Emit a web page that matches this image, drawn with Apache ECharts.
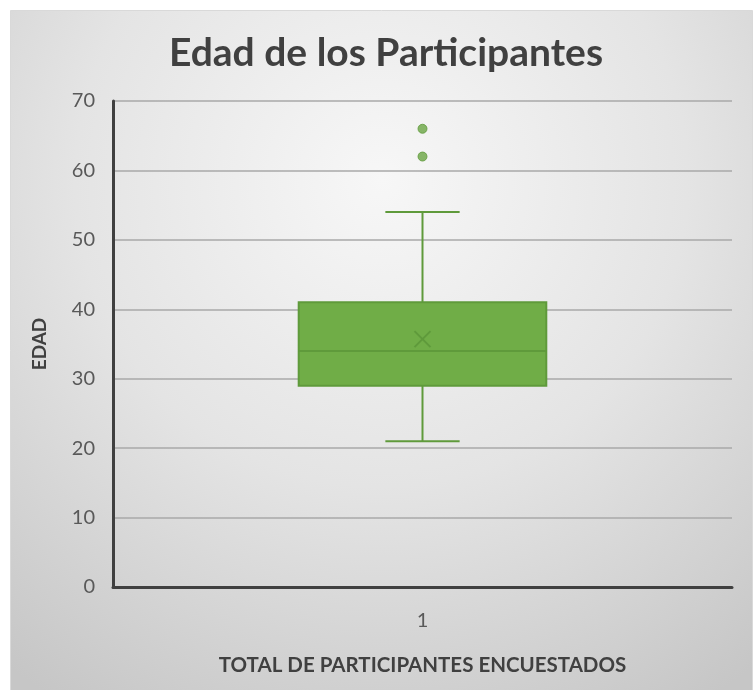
<!DOCTYPE html>
<html>
<head>
<meta charset="utf-8">
<script src="https://cdn.jsdelivr.net/npm/echarts@6/dist/echarts.min.js"></script>
<style>
    html, body { margin: 0; padding: 0; background: #fff; }
    #box_con { width: 755px; height: 690px; }
</style>
</head>
<body>
<div id="box_con"></div>
<script>
// datos
var categories = ['1'];
// [min, Q1, mediana, Q3, max]
var boxValues = [[21, 29, 34, 41, 54]];
var meanValues = [35.7];
var outliers = [[0, 62], [0, 66]];
var yTicks = [0, 10, 20, 30, 40, 50, 60, 70];

var green = '#70ad47';
var darkGreen = '#5f9a3b';

var boxChart = echarts.init(document.getElementById('box_con'));

var boxData = boxValues.map(function (v, i) {
    return [i].concat(v).concat([meanValues[i]]);
});

const option = {
    backgroundColor: '#fff',
    animation: false,
    graphic: [{
        type: 'rect',
        z: -10,
        silent: true,
        shape: { x: 10.5, y: 10.5, width: 742, height: 680 },
        style: {
            fill: {
                type: 'radial', x: 0.5, y: 0.25, r: 0.9,
                colorStops: [
                    { offset: 0, color: '#f7f7f7' },
                    { offset: 0.5, color: '#e4e4e4' },
                    { offset: 1, color: '#c6c6c6' }
                ]
            },
            stroke: '#d9d9d9',
            lineWidth: 1
        }
    }],
    title: {
        text: 'Edad de los Participantes',
        left: 381,
        textAlign: 'center',
        top: 29,
        textStyle: {
            fontFamily: 'Lato',
            fontSize: 39,
            fontWeight: 'bold',
            color: '#404040'
        }
    },
    grid: { left: 113, right: 23, top: 101, bottom: 103 },
    xAxis: {
        type: 'category',
        data: categories,
        name: 'TOTAL DE PARTICIPANTES ENCUESTADOS',
        nameLocation: 'middle',
        nameGap: 68,
        nameTextStyle: { fontFamily: 'Lato', fontSize: 20.5, fontWeight: 'bold', color: '#404040' },
        axisLine: { lineStyle: { color: '#404040', width: 3 } },
        axisTick: { show: false },
        axisLabel: { margin: 24, fontFamily: 'Lato', fontSize: 20, color: '#595959' },
        splitLine: { show: false }
    },
    yAxis: {
        type: 'value',
        min: yTicks[0],
        max: yTicks[yTicks.length - 1],
        interval: 10,
        name: 'EDAD',
        nameLocation: 'middle',
        nameGap: 64,
        nameRotate: 90,
        nameTextStyle: { fontFamily: 'Lato', fontSize: 19, fontWeight: 'bold', color: '#404040' },
        axisLine: { show: true, lineStyle: { color: '#404040', width: 3 } },
        axisTick: { show: false },
        axisLabel: { margin: 18, fontFamily: 'Lato', fontSize: 20, color: '#595959' },
        splitLine: { lineStyle: { color: '#a8a8a8', width: 1.5 } }
    },
    series: [
        {
            type: 'custom',
            data: boxData,
            renderItem: function (params, api) {
                var idx = api.value(0);
                var band = api.size([1, 0])[0];
                var half = band * 0.2;
                var cap = band * 0.06;
                var pMin = api.coord([idx, api.value(1)]);
                var pQ1 = api.coord([idx, api.value(2)]);
                var pMed = api.coord([idx, api.value(3)]);
                var pQ3 = api.coord([idx, api.value(4)]);
                var pMax = api.coord([idx, api.value(5)]);
                var pMean = api.coord([idx, api.value(6)]);
                var cx = pMed[0];
                var lineStyle = { stroke: darkGreen, lineWidth: 2 };
                var m = 8;
                return {
                    type: 'group',
                    children: [
                        { type: 'line', shape: { x1: cx, y1: pMax[1], x2: cx, y2: pQ3[1] }, style: lineStyle },
                        { type: 'line', shape: { x1: cx - cap, y1: pMax[1], x2: cx + cap, y2: pMax[1] }, style: lineStyle },
                        { type: 'line', shape: { x1: cx, y1: pMin[1], x2: cx, y2: pQ1[1] }, style: lineStyle },
                        { type: 'line', shape: { x1: cx - cap, y1: pMin[1], x2: cx + cap, y2: pMin[1] }, style: lineStyle },
                        {
                            type: 'rect',
                            shape: { x: cx - half, y: pQ3[1], width: half * 2, height: pQ1[1] - pQ3[1] },
                            style: { fill: green, stroke: darkGreen, lineWidth: 2 }
                        },
                        { type: 'line', shape: { x1: cx - half, y1: pMed[1], x2: cx + half, y2: pMed[1] }, style: lineStyle },
                        { type: 'line', shape: { x1: cx - m, y1: pMean[1] - m, x2: cx + m, y2: pMean[1] + m }, style: lineStyle },
                        { type: 'line', shape: { x1: cx - m, y1: pMean[1] + m, x2: cx + m, y2: pMean[1] - m }, style: lineStyle }
                    ]
                };
            }
        },
        {
            type: 'scatter',
            data: outliers,
            symbolSize: 9,
            itemStyle: { color: '#6aa543', borderColor: darkGreen, borderWidth: 1 }
        }
    ]
};
boxChart.setOption(option);
window.addEventListener('resize', function () {
    boxChart.resize();
});
</script>
</body>
</html>
